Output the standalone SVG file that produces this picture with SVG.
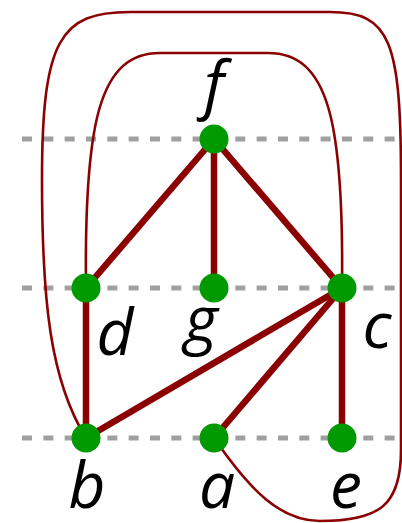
<svg xmlns="http://www.w3.org/2000/svg" width="402" height="523" viewBox="0 0 402 523">
<style>
.guide{stroke:#a0a0a0;stroke-width:5;stroke-dasharray:10 11.33;fill:none}
.edge{stroke:#8b0000;stroke-width:6.5;fill:none}
.arc{stroke:#8b0000;stroke-width:2.6;fill:none}
.node{fill:#009a00}
.lbl{font-family:"Open Sans","DejaVu Sans",sans-serif;font-style:italic;font-size:64px;fill:#000;text-anchor:middle}
</style>
<rect width="402" height="523" fill="#fff"/>
<g id="guides">
<line class="guide" x1="22" y1="139" x2="396" y2="139"/>
<line class="guide" x1="22" y1="288" x2="396" y2="288"/>
<line class="guide" x1="22" y1="438" x2="396" y2="438"/>
</g>
<g id="connectors">
<path class="arc" d="M86,438 C50,380 42,300 42,180 C42,40 60,12 130,12 H330 C390,12 401,40 401,180 V450 C401,505 380,521 320,521 C280,521 250,490 214,438"/>
<path class="arc" d="M86,288 C84,120 100,53 160,53 H268 C328,53 344,120 342,288"/>
<line class="edge" x1="214" y1="139" x2="86" y2="288"/>
<line class="edge" x1="214" y1="139" x2="214" y2="288"/>
<line class="edge" x1="214" y1="139" x2="342" y2="288"/>
<line class="edge" x1="86" y1="288" x2="86" y2="438"/>
<line class="edge" x1="342" y1="288" x2="86" y2="438"/>
<line class="edge" x1="342" y1="288" x2="214" y2="438"/>
<line class="edge" x1="342" y1="288" x2="342" y2="438"/>
</g>
<g id="node-f"><circle class="node" cx="214" cy="139" r="14.5"/><text class="lbl" x="214" y="107">f</text></g>
<g id="node-d"><circle class="node" cx="86" cy="288" r="14.5"/><text class="lbl" x="115" y="355">d</text></g>
<g id="node-g"><circle class="node" cx="214" cy="288" r="14.5"/><text class="lbl" x="201" y="342">g</text></g>
<g id="node-c"><circle class="node" cx="342" cy="288" r="14.5"/><text class="lbl" x="377" y="348">c</text></g>
<g id="node-b"><circle class="node" cx="86" cy="438" r="14.5"/><text class="lbl" x="87" y="508">b</text></g>
<g id="node-a"><circle class="node" cx="214" cy="438" r="14.5"/><text class="lbl" x="217" y="508">a</text></g>
<g id="node-e"><circle class="node" cx="342" cy="438" r="14.5"/><text class="lbl" x="346" y="508">e</text></g>
</svg>
